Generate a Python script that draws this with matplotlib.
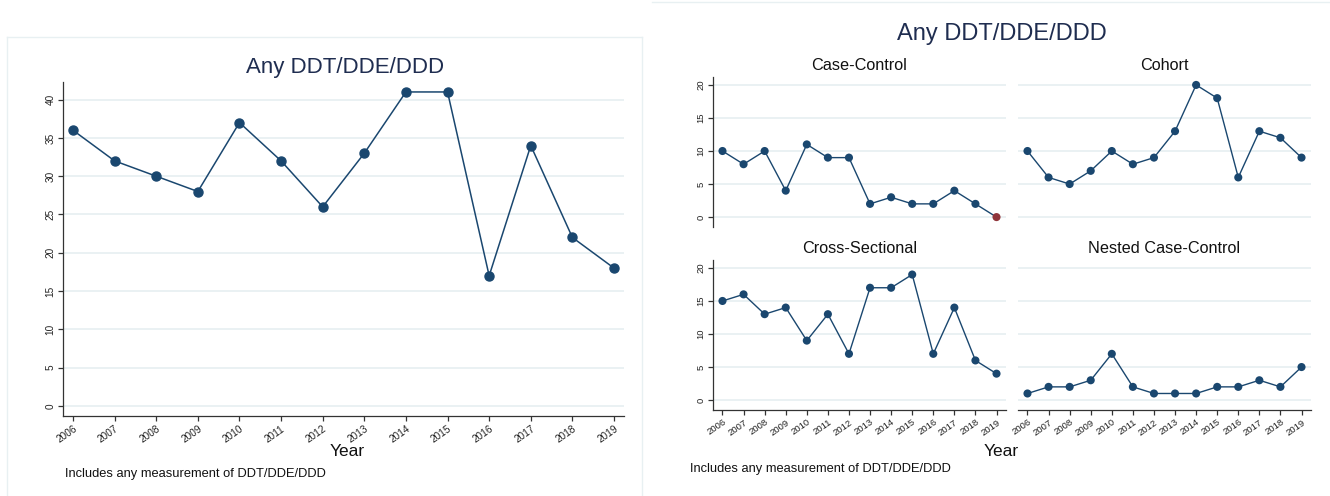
import matplotlib
matplotlib.use("Agg")
import matplotlib.pyplot as plt
from matplotlib.lines import Line2D

plt.rcParams['font.family'] = ['Liberation Sans', 'DejaVu Sans']

# ---- data ----
years = list(range(2006, 2020))
any_total = [36, 32, 30, 28, 37, 32, 26, 33, 41, 41, 17, 34, 22, 18]
case_control = [10, 8, 10, 4, 11, 9, 9, 2, 3, 2, 2, 4, 2, 0]
cohort = [10, 6, 5, 7, 10, 8, 9, 13, 20, 18, 6, 13, 12, 9]
cross_sectional = [15, 16, 13, 14, 9, 13, 7, 17, 17, 19, 7, 14, 6, 4]
nested_cc = [1, 2, 2, 3, 7, 2, 1, 1, 1, 2, 2, 3, 2, 5]

main_title = "Any DDT/DDE/DDD"
panel_titles = ["Case-Control", "Cohort", "Cross-Sectional", "Nested Case-Control"]
note = "Includes any measurement of DDT/DDE/DDD"
xlabel = "Year"

W, H = 1330, 496
NAVY = "#1a476f"
TITLE_C = "#1f2d50"
GRID_C = "#e6eff1"
FRAME_C = "#e8f0f2"
RED = "#90353b"

fig = plt.figure(figsize=(W / 100, H / 100), dpi=100)


def box(x0, y0, x1, y1):
    return [x0 / W, 1 - y1 / H, (x1 - x0) / W, (y1 - y0) / H]


def px(x, y):
    return x / W, 1 - y / H


# light frames around the two graphs
fig.add_artist(Line2D([7 / W, 642 / W], [1 - 37 / H] * 2, color=FRAME_C, lw=1))
fig.add_artist(Line2D([7 / W] * 2, [0, 1 - 37 / H], color=FRAME_C, lw=1))
fig.add_artist(Line2D([642 / W] * 2, [0, 1 - 37 / H], color=FRAME_C, lw=1))
fig.add_artist(Line2D([652 / W, 1], [1 - 1.5 / H] * 2, color=FRAME_C, lw=1))


def style_axes(ax, yticks, show_y, show_x, tick_fs):
    for s in ax.spines.values():
        s.set_visible(False)
    ax.set_yticks(yticks)
    ax.set_xticks(years)
    ax.grid(axis='y', color=GRID_C, lw=1.2)
    ax.set_axisbelow(True)
    ax.tick_params(axis='both', length=3.5, width=0.9, color='#333333',
                   labelsize=tick_fs, labelcolor='#222222', pad=2)
    if show_y:
        ax.spines['left'].set_visible(True)
        ax.spines['left'].set_color('#333333')
        ax.spines['left'].set_linewidth(0.9)
        for lab in ax.get_yticklabels():
            lab.set_rotation(90)
            lab.set_va('center')
    else:
        ax.tick_params(axis='y', left=False, labelleft=False)
    if show_x:
        ax.spines['bottom'].set_visible(True)
        ax.spines['bottom'].set_color('#333333')
        ax.spines['bottom'].set_linewidth(0.9)
        ax.set_xticks(years, [str(y) for y in years], rotation=35,
                      ha='right', rotation_mode='anchor')
    else:
        ax.tick_params(axis='x', bottom=False, labelbottom=False)


# ---- left graph: all studies ----
ax = fig.add_axes(box(63, 82, 624, 416))
ax.plot(years, any_total, color=NAVY, lw=1.1, marker='o', ms=6.5,
        mfc=NAVY, mec=NAVY, zorder=3)
ax.set_xlim(2005.76, 2019.24)
ax.set_ylim(-1.31, 42.3)
style_axes(ax, range(0, 41, 5), True, True, 7.2)
fig.text(*px(345, 68), main_title, ha='center', va='center',
         fontsize=16, color=TITLE_C)
fig.text(*px(347, 452), xlabel, ha='center', va='center', fontsize=12.5,
         color='#111111')
fig.text(*px(65, 474), note, ha='left', va='center', fontsize=9.3,
         color='#111111')

# ---- right graph: by study design ----
panels = [
    (box(713, 77, 1006, 227), case_control, True, False),
    (box(1018, 77, 1311, 227), cohort, False, False),
    (box(713, 260, 1006, 410), cross_sectional, True, True),
    (box(1018, 260, 1311, 410), nested_cc, False, True),
]
for (rect, vals, show_y, show_x), title in zip(panels, panel_titles):
    a = fig.add_axes(rect)
    colors = [RED if v == 0 else NAVY for v in vals]
    a.plot(years, vals, color=NAVY, lw=1.0, zorder=2)
    a.scatter(years, vals, s=34, c=colors, zorder=3, linewidths=0)
    a.set_xlim(2005.55, 2019.45)
    a.set_ylim(-1.5, 21.2)
    style_axes(a, range(0, 21, 5), show_y, show_x, 6.8)
    a.set_title(title, fontsize=11.7, color='#111111', pad=5)

fig.text(*px(1002, 34), main_title, ha='center', va='center',
         fontsize=17, color=TITLE_C)
fig.text(*px(1001, 451), xlabel, ha='center', va='center', fontsize=12.5,
         color='#111111')
fig.text(*px(690, 469), note, ha='left', va='center', fontsize=9.3,
         color='#111111')

fig.savefig("out.png", dpi=100, facecolor='white')
